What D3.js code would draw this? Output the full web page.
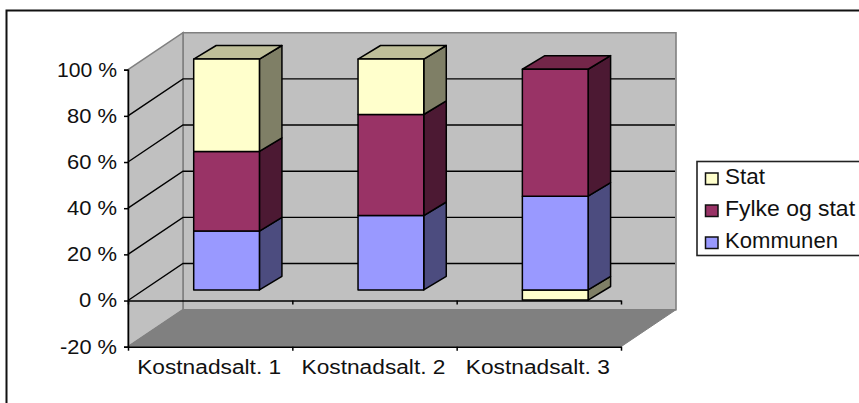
<!DOCTYPE html>
<html>
<head>
<meta charset="utf-8">
<script src="https://cdn.jsdelivr.net/npm/d3@7"></script>
<style>
html,body{margin:0;padding:0;background:#fff}
svg{display:block}
text{font-family:"Liberation Sans",Arial,sans-serif;font-size:20px;fill:#111}
</style>
</head>
<body>
<svg id="chart" width="859" height="403"></svg>
<script>
const categories = ["Kostnadsalt. 1", "Kostnadsalt. 2", "Kostnadsalt. 3"];
const seriesNames = ["Kommunen", "Fylke og stat", "Stat"];
const kommunen = [25.5, 32.2, 40.6];
const fylkeOgStat = [34.5, 43.8, 55];
const stat = [40, 24, -4.4];
const yTicks = [-20, 0, 20, 40, 60, 80, 100];
const legendOrder = ["Stat", "Fylke og stat", "Kommunen"];

const seriesColors = {
  "Kommunen": {front: "#9999FF", side: "#4C4C7F", top: "#7373BF"},
  "Fylke og stat": {front: "#993366", side: "#4C1933", top: "#732649"},
  "Stat": {front: "#FFFFCC", side: "#7F7F66", top: "#BFBF99"}
};

const svg = d3.select("#chart");
const L = 128, R = 621, wallDx = 55, wallDy = -37;
const barDx = 22.5, barDy = -13.6, barOffX = 16.4, barOffY = -10.6;
const ink = "#000";

const x = d3.scaleBand().domain(categories).range([L, R]).paddingInner(0.6).paddingOuter(0.3);
const y = d3.scaleLinear().domain([-20, 100]).range([346.7, 69.7]);

const poly = pts => pts.map(p => p.join(",")).join(" ");

// Frame
svg.append("path").attr("d", "M6.5,410V10.5H870").attr("fill", "#fff").attr("stroke", "#111").attr("stroke-width", 2);

// Walls
svg.append("polygon").attr("points", poly([[L + wallDx, y(100) + wallDy], [R + wallDx, y(100) + wallDy], [R + wallDx, y(-20) + wallDy], [L + wallDx, y(-20) + wallDy]]))
  .attr("fill", "#C0C0C0").attr("stroke", "#808080").attr("stroke-width", 1.6);
svg.append("polygon").attr("points", poly([[L, y(100)], [L + wallDx, y(100) + wallDy], [L + wallDx, y(-20) + wallDy], [L, y(-20)]]))
  .attr("fill", "#C0C0C0").attr("stroke", "#808080").attr("stroke-width", 1.6);
svg.append("polygon").attr("points", poly([[L, y(-20)], [L + wallDx, y(-20) + wallDy], [R + wallDx, y(-20) + wallDy], [R, y(-20)]]))
  .attr("fill", "#808080").attr("stroke", "#808080").attr("stroke-width", 1);

// Gridlines
const gridVals = yTicks.filter(v => v > -20 && v < 100);
svg.append("g").selectAll("path").data(gridVals).join("path")
  .attr("d", v => `M${L},${y(v)}L${L + wallDx},${y(v) + wallDy}H${R + wallDx - 1}`)
  .attr("fill", "none").attr("stroke", ink).attr("stroke-width", 1.4);

// Bars
const rows = categories.map((c, i) => ({category: c, "Kommunen": kommunen[i], "Fylke og stat": fylkeOgStat[i], "Stat": stat[i]}));
const stacked = d3.stack().keys(seriesNames).offset(d3.stackOffsetDiverging)(rows);
const base = y(0) + barOffY, unit = y(0) - y(1);
const segY = v => base - v * unit;
const barW = x.bandwidth();

const segs = [];
stacked.forEach(s => s.forEach(d => segs.push({key: s.key, cat: d.data.category, lo: Math.min(d[0], d[1]), hi: Math.max(d[0], d[1])})));
segs.sort((a, b) => d3.ascending(a.lo, b.lo));
const tops = d3.rollup(segs, v => d3.max(v, d => d.hi), d => d.cat);

const bars = svg.append("g");
segs.forEach(d => {
  const x0 = x(d.cat) + barOffX, x1 = x0 + barW;
  const yt = segY(d.hi), yb = segY(d.lo);
  const c = seriesColors[d.key];
  const g = bars.append("g").attr("stroke", ink).attr("stroke-width", 1.5).attr("stroke-linejoin", "round");
  g.append("polygon").attr("fill", c.side).attr("points", poly([[x1, yt], [x1 + barDx, yt + barDy], [x1 + barDx, yb + barDy], [x1, yb]]));
  if (d.hi === tops.get(d.cat)) {
    g.append("polygon").attr("fill", c.top).attr("points", poly([[x0, yt], [x0 + barDx, yt + barDy], [x1 + barDx, yt + barDy], [x1, yt]]));
  }
  g.append("rect").attr("x", x0).attr("y", yt).attr("width", barW).attr("height", yb - yt).attr("fill", c.front);
});

// Axes
const yAxis = d3.axisLeft(y).tickValues(yTicks).tickFormat(d => d + " %").tickSize(4).tickPadding(7);
const gy = svg.append("g").attr("transform", `translate(${L},0)`).call(yAxis);
gy.select(".domain").attr("stroke", ink).attr("stroke-width", 1.5);
gy.selectAll(".tick line").attr("stroke", ink).attr("stroke-width", 1.5);

const xEdge = d3.scalePoint().domain(d3.range(categories.length + 1)).range([L, R]);
[y(0), y(-20)].forEach(py => {
  const gx = svg.append("g").attr("transform", `translate(0,${py})`)
    .call(d3.axisBottom(xEdge).tickFormat("").tickSizeInner(4).tickSizeOuter(0));
  gx.select(".domain").attr("stroke", ink).attr("stroke-width", 1.5);
  gx.selectAll(".tick line").attr("stroke", ink).attr("stroke-width", 1.5);
});

svg.selectAll(".tick text").remove();
const yLabelWidth = d => d === 100 ? 60 : d === -20 ? 57 : d === 0 ? 38 : 50;
svg.append("g").selectAll("text").data(yTicks).join("text")
  .attr("x", 117).attr("y", d => y(d) + 6.8).attr("text-anchor", "end")
  .attr("textLength", yLabelWidth).attr("lengthAdjust", "spacingAndGlyphs")
  .text(d => d + " %");
svg.append("g").selectAll("text").data(categories).join("text")
  .attr("x", d => x(d) + barW / 2 - 1).attr("y", 374).attr("text-anchor", "middle")
  .attr("textLength", 144).attr("lengthAdjust", "spacingAndGlyphs").text(d => d);

// Legend
const legend = svg.append("g");
legend.append("rect").attr("x", 697).attr("y", 161.5).attr("width", 180).attr("height", 94)
  .attr("fill", "#fff").attr("stroke", "#222").attr("stroke-width", 1.6);
const ly = d3.scalePoint().domain(legendOrder).range([184, 248]);
const legendWidth = {"Stat": 40, "Fylke og stat": 130, "Kommunen": 113};
legendOrder.forEach(n => {
  legend.append("rect").attr("x", 705.5).attr("y", ly(n) - 11).attr("width", 12.5).attr("height", 11.5)
    .attr("fill", seriesColors[n].front).attr("stroke", "#111").attr("stroke-width", 1.5);
  legend.append("text").attr("x", 725).attr("y", ly(n)).style("font-size", "22px")
    .attr("textLength", legendWidth[n]).attr("lengthAdjust", "spacingAndGlyphs").text(n);
});
</script>
</body>
</html>
